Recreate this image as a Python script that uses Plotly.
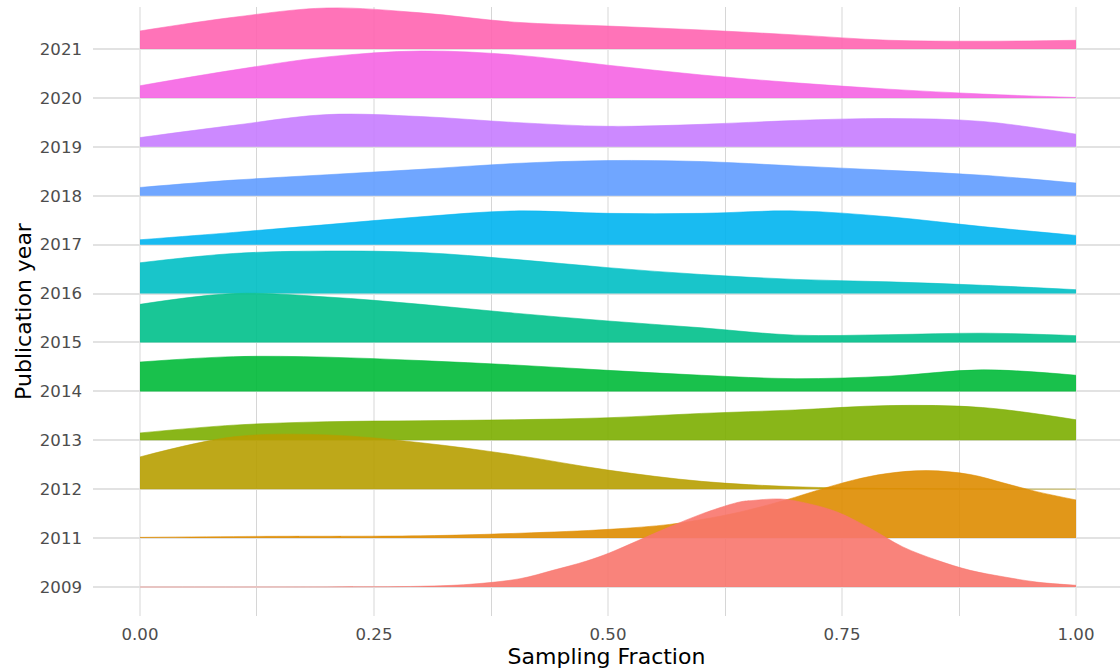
import plotly.graph_objects as go

# ---- data ----
years = ["2009", "2011", "2012", "2013", "2014", "2015", "2016",
         "2017", "2018", "2019", "2020", "2021"]
colors = ["#F8766D", "#DE8C00", "#B79F00", "#7CAE00", "#00BA38", "#00C08B",
          "#00BFC4", "#00B4F0", "#619CFF", "#C77CFF", "#F564E3", "#FF64B0"]

x_grid = [0.0, 0.1, 0.2, 0.3, 0.4, 0.5, 0.6, 0.7, 0.8, 0.9, 1.0]

x_2009 = [0.0, 0.1, 0.2, 0.3, 0.352, 0.406, 0.441, 0.477, 0.502, 0.531, 0.566,
          0.601, 0.641, 0.655, 0.684, 0.708, 0.744, 0.780, 0.815, 0.851, 0.887,
          0.922, 0.958, 1.0]
h_2009 = [0.0, 0.0, 0.002, 0.015, 0.055, 0.17, 0.34, 0.53, 0.70, 0.94, 1.23,
          1.50, 1.74, 1.77, 1.80, 1.73, 1.54, 1.20, 0.82, 0.55, 0.34,
          0.21, 0.10, 0.035]

x_2011 = [0.0, 0.125, 0.30, 0.406, 0.502, 0.566, 0.60, 0.64, 0.69, 0.726,
          0.761, 0.798, 0.841, 0.887, 0.922, 0.958, 1.0]
h_2011 = [0.015, 0.035, 0.047, 0.10, 0.18, 0.28, 0.38, 0.53, 0.78, 0.99,
          1.18, 1.32, 1.38, 1.30, 1.13, 0.95, 0.78]

h_2012 = [0.66, 1.07, 1.11, 0.95, 0.70, 0.39, 0.16, 0.05, 0.015, 0.005, 0.0]
h_2013 = [0.15, 0.31, 0.38, 0.40, 0.42, 0.46, 0.55, 0.62, 0.71, 0.67, 0.42]
h_2014 = [0.60, 0.71, 0.70, 0.63, 0.54, 0.43, 0.33, 0.26, 0.31, 0.44, 0.33]
h_2015 = [0.78, 1.00, 0.93, 0.78, 0.60, 0.44, 0.30, 0.15, 0.16, 0.19, 0.14]
h_2016 = [0.63, 0.82, 0.87, 0.84, 0.70, 0.53, 0.39, 0.29, 0.24, 0.17, 0.08]
h_2017 = [0.10, 0.25, 0.41, 0.57, 0.69, 0.64, 0.64, 0.69, 0.57, 0.37, 0.19]
h_2018 = [0.17, 0.32, 0.43, 0.54, 0.66, 0.72, 0.70, 0.61, 0.52, 0.42, 0.26]
h_2019 = [0.19, 0.44, 0.66, 0.62, 0.50, 0.42, 0.46, 0.54, 0.58, 0.52, 0.26]
h_2020 = [0.25, 0.57, 0.84, 0.96, 0.88, 0.67, 0.47, 0.31, 0.18, 0.08, 0.01]
h_2021 = [0.37, 0.65, 0.84, 0.74, 0.55, 0.47, 0.39, 0.29, 0.18, 0.16, 0.18]

ridges = [
    (x_2009, h_2009), (x_2011, h_2011), (x_grid, h_2012), (x_grid, h_2013),
    (x_grid, h_2014), (x_grid, h_2015), (x_grid, h_2016), (x_grid, h_2017),
    (x_grid, h_2018), (x_grid, h_2019), (x_grid, h_2020), (x_grid, h_2021),
]


def rgba(hex_color, a):
    h = hex_color.lstrip("#")
    r, g, b = int(h[0:2], 16), int(h[2:4], 16), int(h[4:6], 16)
    return f"rgba({r},{g},{b},{a})"


fig = go.Figure()
# draw top rows first so lower ridges sit in front
for i in range(len(years) - 1, -1, -1):
    xs, hs = ridges[i]
    base = i + 1
    fig.add_trace(go.Scatter(
        x=xs, y=[base] * len(xs), mode="lines",
        line=dict(width=0, color=colors[i]), hoverinfo="skip", showlegend=False))
    fig.add_trace(go.Scatter(
        x=xs, y=[base + v for v in hs], mode="lines",
        line=dict(width=0.6, color=rgba(colors[i], 0.9), shape="spline", smoothing=1.0),
        fill="tonexty", fillcolor=rgba(colors[i], 0.9),
        name=years[i], showlegend=False))

font_family = "DejaVu Sans"
fig.update_layout(
    width=1120, height=672,
    margin=dict(l=93, r=0, t=7, b=56),
    paper_bgcolor="white", plot_bgcolor="white",
    font=dict(family=font_family, color="#4D4D4D"),
    showlegend=False,
    xaxis=dict(
        range=[-0.0502, 1.047], tickmode="array",
        tickvals=[0, 0.25, 0.5, 0.75, 1.0],
        ticktext=["0.00", "0.25", "0.50", "0.75", "1.00"],
        showgrid=True, gridcolor="#EBEBEB", gridwidth=2.4,
        minor=dict(dtick=0.125, tick0=0, showgrid=True, gridcolor="#D6D6D6", gridwidth=1.3),
        zeroline=False, showline=False, ticks="",
        ticklabelstandoff=6,
        tickfont=dict(size=16.6, color="#4D4D4D", family=font_family),
        title=dict(text="Sampling Fraction", standoff=4,
                   font=dict(size=22, color="black", family=font_family)),
        automargin=False,
    ),
    yaxis=dict(
        range=[0.407, 12.86], tickmode="array",
        tickvals=list(range(1, len(years) + 1)), ticktext=years,
        showgrid=True, gridcolor="#E2E2E2", gridwidth=2.4,
        zeroline=False, showline=False, ticks="",
        ticklabelstandoff=10,
        tickfont=dict(size=16.6, color="#4D4D4D", family=font_family),
        title=dict(text="Publication year", standoff=2,
                   font=dict(size=22, color="black", family=font_family)),
        automargin=False,
    ),
)

fig.write_html("out.html")
